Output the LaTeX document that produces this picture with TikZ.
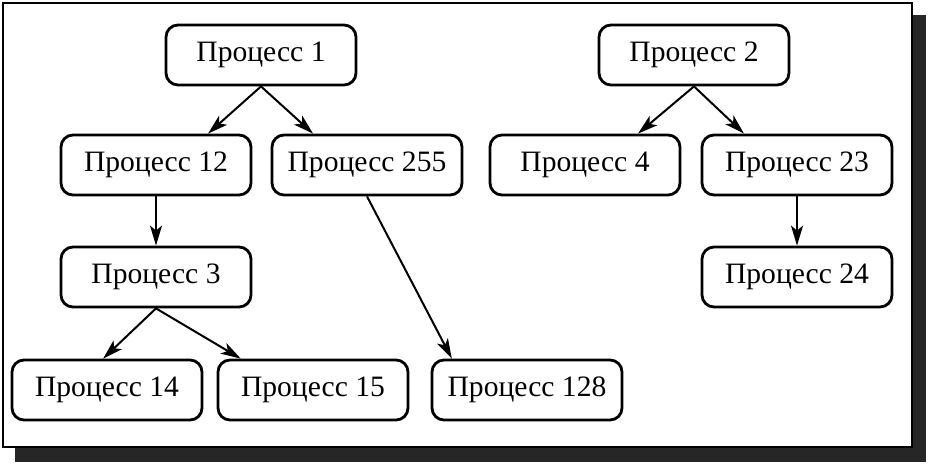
\documentclass[tikz,border=0pt]{standalone}
\usepackage{fontspec}
\setmainfont{Liberation Serif}
\usetikzlibrary{arrows.meta,calc}

\begin{document}
\begin{tikzpicture}[x=0.5pt,y=-0.5pt,
    proc/.style={draw, line width=1.4pt, rounded corners=6pt,
      minimum width=95pt, minimum height=30pt, inner sep=0pt,
      font=\fontsize{14.8}{17}\selectfont},
    link/.style={-{Stealth[length=10pt,width=6pt,inset=2.5pt]},
      line width=1pt}]
    \useasboundingbox (0,0) rectangle (929,465);
    % frame with its shadow
    \fill [black!85] (15,447) rectangle (926,462); \fill [black!85]
    (912,15) rectangle (926,462); \draw [fill=white, line width=1.3pt]
    (3,3) rectangle (912,447);
    % processes
    \node [proc] (p1) at (261,55) {Процесс 1}; \node [proc] (p2) at
    (694,55) {Процесс 2}; \node [proc] (p12) at (156,165) {Процесс
    12}; \node [proc] (p255) at (367,165) {Процесс 255}; \node [proc]
    (p4) at (585,165) {Процесс 4}; \node [proc] (p23) at (797,165)
    {Процесс 23}; \node [proc] (p3) at (156,277) {Процесс 3}; \node
    [proc] (p24) at (797,277) {Процесс 24}; \node [proc] (p14) at
    (107,390) {Процесс 14}; \node [proc] (p15) at (313,390) {Процесс
    15}; \node [proc] (p128) at (527,390) {Процесс 128};
    % parent -> child
    \draw [link] (p1.south) -- ($(p12.north)!0.54!(p12.north east)$);
    \draw [link] (p1.south) -- ($(p255.north)!0.56!(p255.north
    west)$); \draw [link] (p2.south) --
    ($(p4.north)!0.55!(p4.north east)$); \draw [link] (p2.south) --
    ($(p23.north)!0.55!(p23.north west)$); \draw [link] (p12) --
    (p3); \draw [link] (p23) -- (p24); \draw [link] (p3.south) --
    ($(p14.north)!0.04!(p14.north west)$); \draw [link] (p3.south) --
    ($(p15.north)!0.75!(p15.north west)$); \draw [link] (p255.south)
    -- ($(p128.north)!0.78!(p128.north west)$);
  \end{tikzpicture}
\end{document}
